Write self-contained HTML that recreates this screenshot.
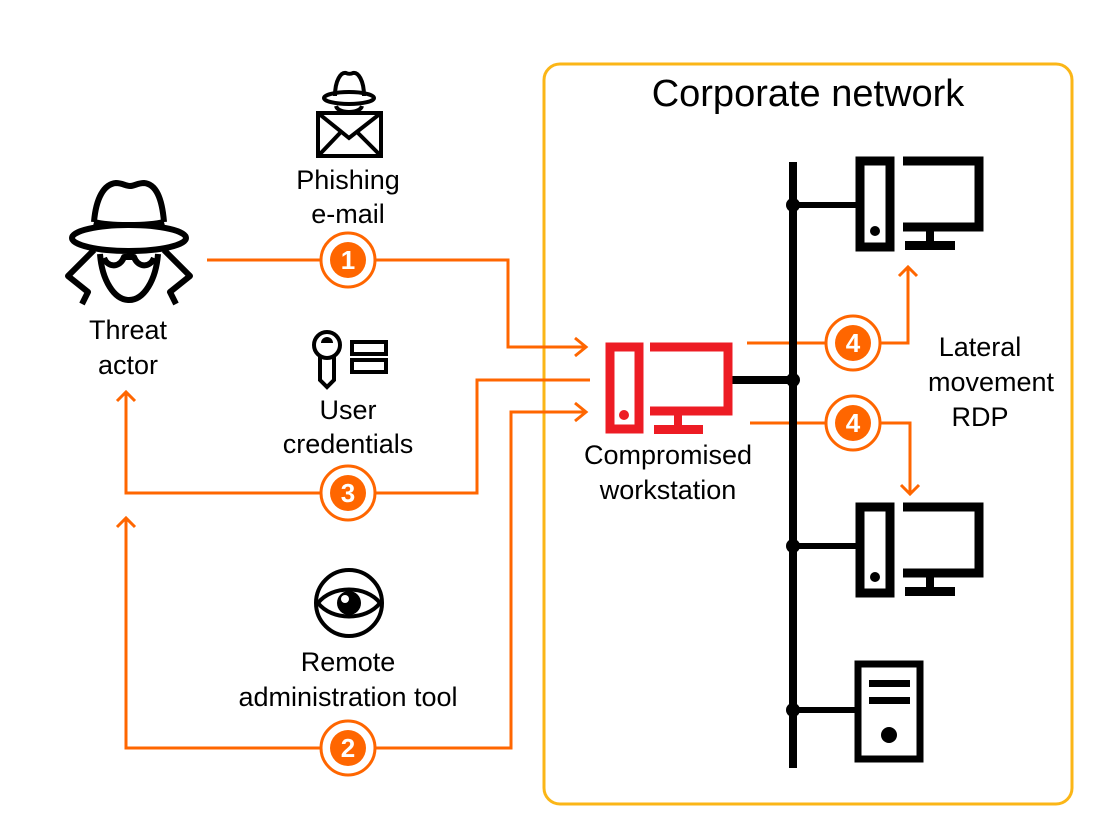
<!DOCTYPE html>
<html><head><meta charset="utf-8"><style>
html,body{margin:0;padding:0;background:#fff}
svg{display:block}
svg text{font-family:"Liberation Sans",Arial,Helvetica,sans-serif;fill:#000}
</style></head><body>
<svg width="1095" height="833" viewBox="0 0 1095 833" xmlns="http://www.w3.org/2000/svg" font-family="Liberation Sans, Arial, sans-serif">
<rect x="544" y="64" width="528" height="740" rx="16" fill="none" stroke="#FBB617" stroke-width="3"/>
<text x="808" y="106" font-size="38" text-anchor="middle">Corporate network</text>

<g fill="none" stroke="#FF6600" stroke-width="3">
<polyline points="207,260 508,260 508,347 586,347"/>
<polyline points="575,338 586,347 575,356"/>
<polyline points="590,380 477,380 477,493 126,493 126,392"/>
<polyline points="117,401 126,392 135,401"/>
<polyline points="586,412 511,412 511,748 126,748 126,518"/>
<polyline points="575,403 586,412 575,421"/>
<polyline points="117,527 126,518 135,527"/>
<polyline points="747,343 908,343 908,267"/>
<polyline points="899,276 908,267 917,276"/>
<polyline points="750,423 910,423 910,494"/>
<polyline points="901,485 910,494 919,485"/>
</g>
<g font-size="26" font-weight="bold" text-anchor="middle">
<g><circle cx="348" cy="260" r="27" fill="#fff" stroke="#FF6600" stroke-width="3"/><circle cx="348" cy="260" r="18" fill="#FF6600"/><text x="348" y="269" style="fill:#fff">1</text></g>
<g><circle cx="348" cy="493" r="27" fill="#fff" stroke="#FF6600" stroke-width="3"/><circle cx="348" cy="493" r="18" fill="#FF6600"/><text x="348" y="502" style="fill:#fff">3</text></g>
<g><circle cx="348" cy="748" r="27" fill="#fff" stroke="#FF6600" stroke-width="3"/><circle cx="348" cy="748" r="18" fill="#FF6600"/><text x="348" y="757" style="fill:#fff">2</text></g>
<g><circle cx="853" cy="343" r="27" fill="#fff" stroke="#FF6600" stroke-width="3"/><circle cx="853" cy="343" r="18" fill="#FF6600"/><text x="853" y="352" style="fill:#fff">4</text></g>
<g><circle cx="853" cy="423" r="27" fill="#fff" stroke="#FF6600" stroke-width="3"/><circle cx="853" cy="423" r="18" fill="#FF6600"/><text x="853" y="432" style="fill:#fff">4</text></g>
</g>

<g fill="#000">
<rect x="789" y="162" width="8" height="606"/>
<circle cx="793" cy="205" r="7"/><circle cx="793" cy="380" r="7"/><circle cx="793" cy="546" r="7"/><circle cx="793" cy="710" r="7"/>
<rect x="793" y="202" width="64" height="6"/>
<rect x="732" y="376" width="61" height="8"/>
<rect x="793" y="543" width="64" height="6"/>
<rect x="793" y="707" width="64" height="6"/>
</g>
<g fill="none" stroke="#000" stroke-width="9">
<rect x="860" y="161" width="30" height="86"/>
<polyline points="903,161 979,161 979,227 903,227"/>
<rect x="860" y="507" width="30" height="86"/>
<polyline points="903,507 979,507 979,573 903,573"/>
<rect x="858" y="664" width="62" height="95" stroke-width="7"/>
</g>
<g fill="#000">
<rect x="926" y="227" width="8" height="14"/><rect x="905" y="241" width="50" height="9"/><circle cx="875" cy="231" r="5"/>
<rect x="926" y="573" width="8" height="14"/><rect x="905" y="587" width="50" height="9"/><circle cx="875" cy="577" r="5"/>
<rect x="869" y="680" width="41" height="7"/><rect x="869" y="697" width="41" height="7"/><circle cx="889" cy="735" r="8"/>
</g>
<g fill="none" stroke="#ED1C24" stroke-width="9">
<rect x="610" y="347" width="29" height="82"/>
<polyline points="650,347 728,347 728,411 650,411"/>
</g>
<g fill="#ED1C24"><rect x="674" y="411" width="8" height="14"/><rect x="654" y="425" width="49" height="9"/><circle cx="624" cy="415" r="5"/></g>

<!-- threat actor -->
<g fill="none" stroke="#000" stroke-width="6" stroke-linejoin="round">
<path d="M94,222 C96,198 104,184 116,183 C122,183 126,186 130,186 C134,186 138,183 144,183 C156,184 162,198 164,222"/>
<path d="M94,222 C110,226 148,226 164,222"/>
<ellipse cx="129" cy="238" rx="57" ry="13"/>
<path d="M100,254 C102,280 114,300 129,300 C144,300 156,280 158,254"/>
<path d="M104,258 C108,268 120,268 124,257 L134,257 C138,268 150,268 154,258"/>
<path d="M94,250 L68,276 L88,292 L82,304 M164,250 L190,276 L170,292 L176,304"/>
</g>
<text x="128" y="339" font-size="27" text-anchor="middle">Threat</text>
<text x="128" y="374" font-size="27" text-anchor="middle">actor</text>

<!-- phishing -->
<g fill="none" stroke="#000" stroke-width="4">
<path d="M335,96 C335,80 341,72 346,73 C348,74 351,74 353,73 C358,72 364,80 364,96"/>
<ellipse cx="349" cy="98" rx="25" ry="6"/>
<path d="M336,106 C338,114 360,114 362,106"/>
<rect x="318" y="113" width="63" height="43"/>
<polyline points="318,113 349,138 381,113"/>
<polyline points="320,154 340,133"/><polyline points="379,154 358,133"/>
</g>
<text x="348" y="189" font-size="27" text-anchor="middle">Phishing</text>
<text x="348" y="223" font-size="27" text-anchor="middle">e-mail</text>

<g fill="none" stroke="#000" stroke-width="4">
<circle cx="327" cy="345" r="13"/>
<path d="M320,357 L320,380 L327,387 L334,380 L334,357"/>
<rect x="352" y="342" width="34" height="12"/><rect x="352" y="360" width="34" height="12"/>
</g>
<path d="M321,343 A6,6 0 0 1 333,343 Z" fill="#000"/>
<text x="348" y="419" font-size="27" text-anchor="middle">User</text>
<text x="348" y="453" font-size="27" text-anchor="middle">credentials</text>

<g fill="none" stroke="#000" stroke-width="4">
<circle cx="349" cy="603" r="33"/>
<path d="M318,603 C332,585 366,585 380,603 C366,621 332,621 318,603 Z"/>
</g>
<circle cx="349" cy="603" r="12" fill="#000"/><circle cx="345" cy="599" r="4" fill="#fff"/>
<text x="348" y="671" font-size="27" text-anchor="middle">Remote</text>
<text x="348" y="706" font-size="27" text-anchor="middle">administration tool</text>

<text x="668" y="464" font-size="27" text-anchor="middle">Compromised</text>
<text x="668" y="499" font-size="27" text-anchor="middle">workstation</text>
<text x="980" y="356" font-size="27" text-anchor="middle">Lateral</text>
<text x="991" y="391" font-size="27" text-anchor="middle">movement</text>
<text x="980" y="426" font-size="27" text-anchor="middle">RDP</text>
</svg>
</body></html>
